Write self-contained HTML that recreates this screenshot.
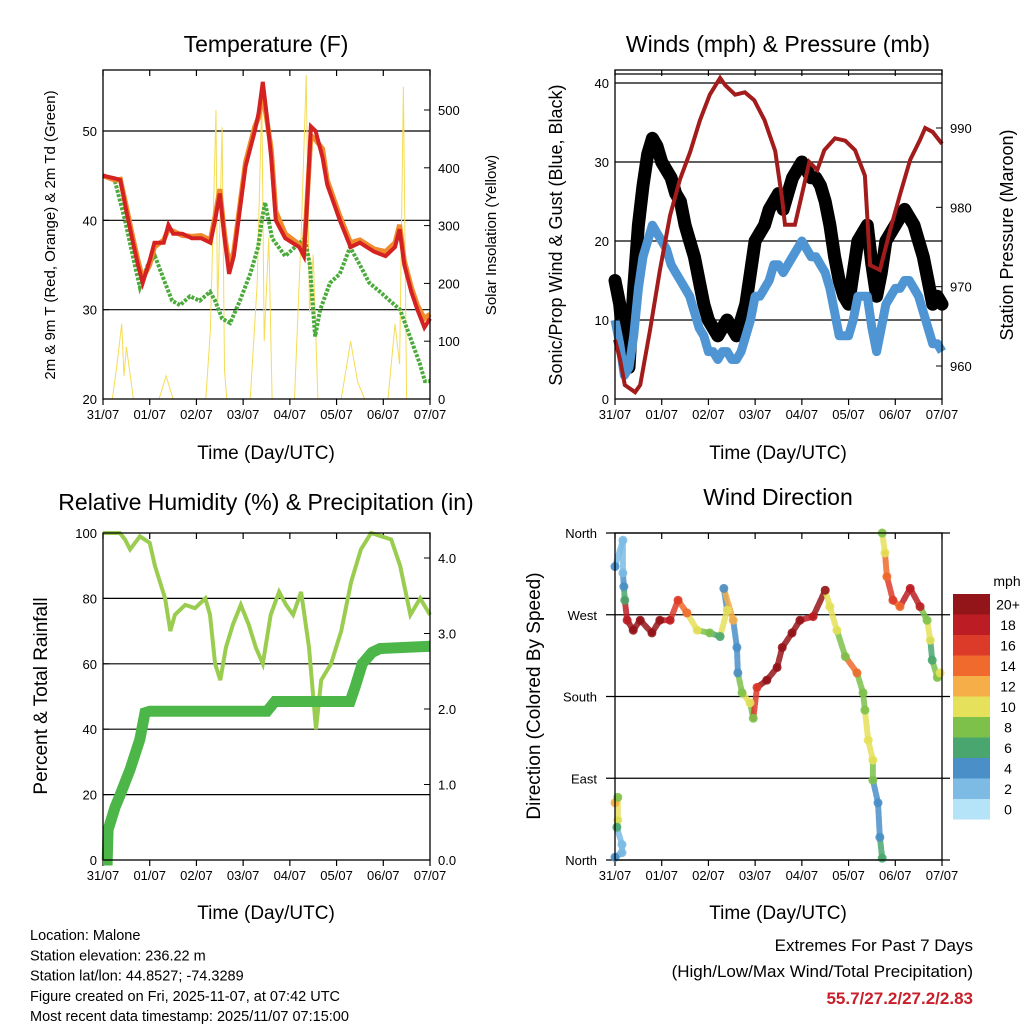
<!DOCTYPE html>
<html><head><meta charset="utf-8">
<style>
body{margin:0;background:#fff;}
svg{display:block;font-family:"Liberation Sans",Arial,sans-serif;}
</style></head>
<body>
<svg id="c" width="1024" height="1024" viewBox="0 0 1024 1024"></svg>
<script>
// ---------- DATA ----------
const dayLabels=["31/07","01/07","02/07","03/07","04/07","05/07","06/07","07/07"];
const tempTicks=[20,30,40,50];
const solarTicks=[0,100,200,300,400,500];
const windTicks=[0,10,20,30,40];
const presTicks=[960,970,980,990];
const rhTicks=[0,20,40,60,80,100];
const rainTicks=[0,1,2,3,4];
const dirLabels=["North","East","South","West","North"];
const dirTicks=[0,90,180,270,360];
const tempTimes=[0,0.25,0.37,0.5,0.62,0.75,0.85,1.0,1.1,1.3,1.4,1.5,1.7,1.9,2.1,2.3,2.4,2.5,2.6,2.7,2.8,2.95,3.05,3.25,3.33,3.42,3.5,3.6,3.7,3.9,4.2,4.3,4.35,4.45,4.55,4.7,4.8,5.07,5.3,5.5,5.8,6.05,6.25,6.35,6.45,6.6,6.73,6.88,7];
const tempRed=[45,44.7,44.5,41,38,35,33,35.5,37.5,37.5,39.5,38.5,38.5,38,38,37.5,40,43,38,34,36,42,46,50,52,55.5,52,47,40,38,37,36,40,50.5,50,47,44,40,37,37.5,36.5,36,37,39,35,32,30,28,29];
const tempOrange=[45,44.5,44.6,41.5,38.5,35.5,33.5,35,37,37.8,39,38.8,38.3,38.2,38.3,37.8,40.5,43.5,38.5,35,36.5,42.5,46.5,50.5,51.5,54,51.5,48,41,38.5,37.3,36.5,40.5,49.5,49,48,44.5,40.5,37.5,37.8,36.8,36.5,37.5,39.5,35.5,32.5,30.5,29,29.5];
const tdTimes=[0,0.25,0.47,0.68,0.79,0.96,1.11,1.33,1.48,1.65,1.86,2.07,2.29,2.4,2.55,2.72,2.93,3.15,3.32,3.4,3.47,3.62,3.9,4.11,4.32,4.43,4.54,4.65,4.86,5.07,5.29,5.5,5.7,5.93,6.14,6.36,6.57,6.78,6.89,7];
const tdVals=[45,44.5,40,35,32.5,35,36,33,31,30.5,31.5,31,32,31,29,28.5,31,34,37,40,42,38,36,37,38,35,27,30,33,34,37,35,33,32,31,30,27,24,22,22];
const solarTimes=[0,0.2,0.3,0.4,0.45,0.5,0.65,1.2,1.35,1.5,2.2,2.3,2.42,2.45,2.5,2.55,2.6,2.65,3.15,3.3,3.4,3.45,3.55,3.62,4.1,4.25,4.35,4.42,4.5,4.6,5.1,5.3,5.45,5.6,6.1,6.25,6.35,6.43,6.5,7];
const solarVals=[0,0,60,130,40,90,0,0,40,0,0,120,500,150,300,470,50,0,0,200,520,100,280,0,0,300,560,150,250,0,0,100,30,0,0,130,60,540,0,0];
const windTimes=[0,0.1,0.2,0.3,0.4,0.5,0.6,0.7,0.8,0.9,1.0,1.1,1.2,1.3,1.4,1.5,1.6,1.7,1.8,1.9,2.0,2.1,2.2,2.3,2.4,2.5,2.6,2.7,2.8,2.9,3.0,3.1,3.2,3.3,3.4,3.5,3.6,3.7,3.8,3.9,4.0,4.1,4.2,4.3,4.4,4.5,4.6,4.7,4.8,4.9,5.0,5.1,5.2,5.3,5.4,5.5,5.6,5.7,5.8,5.9,6.0,6.1,6.2,6.3,6.4,6.5,6.6,6.7,6.8,6.9,7.0];
const gustVals=[15,12,6,4,14,22,27,31,33,32,30,29,28,26,25,22,20,18,15,12,10,9,8,9,10,9,8,10,12,16,20,21,22,24,25,26,24,26,28,29,30,29,28,28,27,25,22,18,15,13,12,16,20,21,22,17,13,16,20,21,22,23,24,23,22,20,18,15,12,13,12];
const windVals=[10,7,3,4,8,14,18,20,22,21,20,19,17,16,15,14,13,11,9,8,6,6,5,6,6,5,5,6,8,10,13,13,14,15,17,17,16,17,18,19,20,19,18,18,17,16,14,11,8,8,8,10,13,13,13,9,6,9,12,13,14,14,15,15,14,13,11,9,7,7,6];
const presTimes=[0,0.11,0.21,0.43,0.54,0.75,0.96,1.18,1.39,1.61,1.82,2.03,2.25,2.36,2.57,2.78,2.98,3.2,3.43,3.58,3.64,3.85,4.0,4.16,4.33,4.48,4.71,4.93,5.14,5.35,5.46,5.67,5.89,6.1,6.32,6.53,6.64,6.8,7.0];
const presVals=[963.3,960.8,957.6,956.7,957.6,964.5,972,979,983.5,987,991,994.2,996.3,995.4,994.2,994.5,993.5,991,987.1,981,977.8,977.8,981.6,985.7,984.7,987.2,988.7,988.4,987.2,984,972.7,972.1,977.1,981.6,986,988.5,990,989.5,988];
const rhTimes=[0,0.36,0.47,0.58,0.79,1.0,1.11,1.33,1.44,1.54,1.76,1.97,2.19,2.29,2.4,2.51,2.63,2.78,2.95,3.12,3.27,3.42,3.59,3.77,3.92,4.07,4.24,4.41,4.5,4.56,4.67,4.88,5.1,5.31,5.52,5.74,6.17,6.36,6.58,6.79,7];
const rhVals=[100,100,98,95,99,97,90,80,70,75,78,77,80,75,60,55,65,72,78,72,65,60,75,82,78,75,82,65,50,40,55,60,70,85,95,100,98,90,75,80,75];
const rainTimes=[0,0.09,0.11,0.26,0.36,0.58,0.79,0.9,1.0,3.51,3.68,5.29,5.4,5.55,5.76,5.93,7];
const rainVals=[0,0,0.4,0.7,0.85,1.2,1.6,1.95,1.97,1.97,2.1,2.1,2.3,2.6,2.75,2.8,2.83];
const dirTimes=[0,0.17,0.17,0.19,0.21,0.26,0.39,0.54,0.79,0.96,1.18,1.35,1.54,1.76,2.03,2.25,2.40,2.33,2.53,2.61,2.63,2.72,2.89,2.96,3.04,3.25,3.47,3.58,3.79,3.96,4.24,4.50,4.60,4.75,4.93,5.18,5.31,5.35,5.42,5.52,5.52,5.63,5.67,5.72,5.72,5.78,5.82,5.95,6.10,6.32,6.53,6.68,6.75,6.79,6.90,6.96,0,0.06,0.06,0.04,0.15,0.15,0];
const dirVals=[323,352,316,301,286,264,253,264,250,264,264,286,272,253,250,246,275,299,264,234,206,184,173,156,190,198,212,234,250,264,268,297,279,253,224,206,184,165,132,110,88,63,25,2,360,338,312,286,279,299,279,264,242,220,201,206,63,69,44,36,17,8,3];
const dirSpeeds=[4,2,2,4,6,18,20,20,20,20,18,16,14,10,7,6,10,4,12,4,4,8,10,7,16,20,20,20,20,20,18,20,10,10,8,14,8,7,10,10,7,4,4,6,7,10,14,16,14,18,18,7,10,6,7,10,12,7,10,6,1,2,4];
const cbLabels=["0","2","4","6","8","10","12","14","16","18","20+"];
const cbColors=["#b5e3f8","#7dbbe4","#4a8fc8","#49a66f","#7dc14b","#e6e15a","#f6ae48","#ef6a2c","#dd3b2a","#bc1d24","#941519"];

// ---------- HELPERS ----------
const svg=document.getElementById('c');
const NS="http://www.w3.org/2000/svg";
function mk(tag,at,parent){const e=document.createElementNS(NS,tag);for(const k in at)e.setAttribute(k,at[k]);(parent||svg).appendChild(e);return e;}
function txt(s,x,y,size,anchor,parent,extra){const t=mk('text',Object.assign({x:x,y:y,'font-size':size,'text-anchor':anchor||'middle',fill:'#000'},extra||{}),parent);t.textContent=s;return t;}
function lin(d0,d1,r0,r1){return v=>r0+(v-d0)/(d1-d0)*(r1-r0);}
function pathFrom(ts,vs,sx,sy){return ts.map((t,i)=>(i?'L':'M')+sx(t).toFixed(1)+','+sy(vs[i]).toFixed(1)).join('');}
function speedColor(s){return cbColors[Math.min(10,Math.max(0,Math.round(s/2)))];}

function panelFrame(g,x0,x1,y0,y1,grid,sy,gl,gr){
  const sx=lin(0,7,x0,x1);
  grid.forEach(v=>{const y=sy(v);const l=mk('line',{x1:gl,x2:gr,y1:y,y2:y,stroke:'#000','stroke-width':1.2},g);
  
  });
  for(let d=0;d<=7;d++){const x=sx(d);
    mk('line',{x1:x,x2:x,y1:y1,y2:y1+6,stroke:'#000','stroke-width':1.2},g);
    mk('line',{x1:x,x2:x,y1:y0,y2:y0+6,stroke:'#000','stroke-width':1.2},g);
    const t=txt(dayLabels[d],x,y1+20,13,'middle',g);
    
    }
  return sx;
}
function border(g,x0,x1,y0,y1){const r=mk('rect',{x:x0,y:y0,width:x1-x0,height:y1-y0,fill:'none',stroke:'#000','stroke-width':1.3},g);
  
  }
function yTicks(g,ticks,sy,x,side,fmt){ticks.forEach(v=>{const y=sy(v);
  mk('line',{x1:x,x2:x+(side<0?6:-6),y1:y,y2:y,stroke:'#000'},g);
  const t=txt(fmt?fmt(v):String(v),x+(side<0?-6:8),y+5,13,side<0?'end':'start',g);
  
  });}
function rotLabel(s,x,y,size,g){return txt(s,x,y,size,'middle',g,{transform:`rotate(-90 ${x} ${y})`});}

// ---------- PANEL 1: TEMPERATURE ----------
(function(){
  const g=mk('g',{});  
  const x0=103,x1=430,y0=70,y1=399;
  const sy=lin(20,50,399,131), ss=lin(0,500,399,110);
  const sx=panelFrame(g,x0,x1,y0,y1,[30,40,50],sy,103,430);
  const sol=mk('path',{d:pathFrom(solarTimes,solarVals,sx,ss),fill:'none',stroke:'#f5dc55','stroke-width':1},g);
   
  const td=mk('path',{d:pathFrom(tdTimes,tdVals,sx,sy),fill:'none',stroke:'#4aab3a','stroke-width':4,'stroke-dasharray':'3 1.5'},g);
   
  const o=mk('path',{d:pathFrom(tempTimes,tempOrange,sx,sy),fill:'none',stroke:'#f08a2a','stroke-width':5},g);
   
  const r=mk('path',{d:pathFrom(tempTimes,tempRed,sx,sy),fill:'none',stroke:'#d42222','stroke-width':4},g);
   
  border(g,x0,x1,y0,y1);
  yTicks(g,tempTicks,sy,x0,-1); yTicks(g,solarTicks,ss,x1,1);
  const t=txt('Temperature (F)',266,52,23,'middle',g);  
  const xl=txt('Time (Day/UTC)',266,459,19,'middle',g);  
  const yl=rotLabel('2m & 9m T (Red, Orange) & 2m Td (Green)',55,235,15,g);  
  const yr=rotLabel('Solar Insolation (Yellow)',496,235,15,g);  
})();

// ---------- PANEL 2: WINDS ----------
(function(){
  const g=mk('g',{});  
  const x0=615,x1=942,y0=70,y1=399;
  const sy=lin(0,40,399,83), sp=lin(960,990,366,128);
  const sx=panelFrame(g,x0,x1,y0,y1,[10,20,30,40],sy,615,942);
  mk('line',{x1:615,x2:942,y1:74,y2:74,stroke:'#000','stroke-width':1.2},g);
  const gu=mk('path',{d:pathFrom(windTimes,gustVals,sx,sy),fill:'none',stroke:'#000','stroke-width':13,'stroke-linejoin':'round','stroke-linecap':'round'},g);
   
  const wi=mk('path',{d:pathFrom(windTimes,windVals,sx,sy),fill:'none',stroke:'#4f95d3','stroke-width':9,'stroke-linejoin':'round'},g);
   
  const pr=mk('path',{d:pathFrom(presTimes,presVals,sx,sp),fill:'none',stroke:'#a31c1c','stroke-width':4},g);
   
  border(g,x0,x1,y0,y1);
  yTicks(g,windTicks,sy,x0,-1); yTicks(g,presTicks,sp,x1,1);
  const t=txt('Winds (mph) & Pressure (mb)',778,52,23,'middle',g);  
  const xl=txt('Time (Day/UTC)',778,459,19,'middle',g);  
  const yl=rotLabel('Sonic/Prop Wind & Gust (Blue, Black)',562,235,18,g);  
  const yr=rotLabel('Station Pressure (Maroon)',1013,235,18,g);  
})();

// ---------- PANEL 3: RH ----------
(function(){
  const g=mk('g',{});  
  const x0=103,x1=430,y0=533,y1=860;
  const sy=lin(0,100,860,533), sr=lin(0,4,860,558);
  const sx=panelFrame(g,x0,x1,y0,y1,[20,40,60,80],sy,103,430);
  const rh=mk('path',{d:pathFrom(rhTimes,rhVals,sx,sy),fill:'none',stroke:'#9acd4f','stroke-width':4},g);
   
  const rn=mk('path',{d:pathFrom(rainTimes,rainVals,sx,sr),fill:'none',stroke:'#4cb648','stroke-width':11},g);
   
  border(g,x0,x1,y0,y1);
  yTicks(g,rhTicks,sy,x0,-1); yTicks(g,rainTicks,sr,x1,1,v=>v.toFixed(1));
  const t=txt('Relative Humidity (%) & Precipitation (in)',266,510,23,'middle',g);  
  const xl=txt('Time (Day/UTC)',266,919,19,'middle',g);  
  const yl=rotLabel('Percent & Total Rainfall',47,696,19,g);  
})();

// ---------- PANEL 4: WIND DIRECTION ----------
(function(){
  const g=mk('g',{});  
  const x0=615,x1=942,y0=533,y1=860;
  const sy=lin(0,360,860,533);
  const sx=panelFrame(g,x0,x1,y0,y1,[0,90,180,270,360],sy,606,950);
  for(let i=1;i<dirTimes.length;i++){
    if(Math.abs(dirVals[i]-dirVals[i-1])<40&&Math.abs(dirTimes[i]-dirTimes[i-1])<0.3){
      const l=mk('line',{x1:sx(dirTimes[i-1]),y1:sy(dirVals[i-1]),x2:sx(dirTimes[i]),y2:sy(dirVals[i]),stroke:speedColor(dirSpeeds[i]),'stroke-width':6,'stroke-linecap':'round','stroke-opacity':0.85,'stroke-dasharray':'5 2'},g);
      
      
    }
  }
  dirTimes.forEach((t,i)=>{
    const c=mk('circle',{cx:sx(t),cy:sy(dirVals[i]),r:4.5,fill:speedColor(dirSpeeds[i]),'fill-opacity':0.9},g);
    
    
  });
  border(g,x0,x1,y0,y1);
  dirTicks.forEach((v,i)=>{const t=txt(dirLabels[i],597,sy(v)+5,13,'end',g);
    
    });
  const t=txt('Wind Direction',778,505,23,'middle',g);  
  const xl=txt('Time (Day/UTC)',778,919,19,'middle',g);  
  const yl=rotLabel('Direction (Colored By Speed)',540,696,19,g);  
  const cb=mk('g',{},g);  
  const ttl=txt('mph',1007,586,14,'middle',cb);  
  const h=20.5, top=594;
  cbColors.forEach((col,i)=>{const y=top+(10-i)*h;
    const r=mk('rect',{x:953,y:y,width:37,height:h,fill:col},cb);
     
    const l=txt(cbLabels[i],1008,y+h/2+5,14,'middle',cb);
     });
})();

// ---------- FOOTER TEXT ----------
const info=["Location: Malone","Station elevation: 236.22 m","Station lat/lon: 44.8527; -74.3289","Figure created on Fri, 2025-11-07, at 07:42 UTC","Most recent data timestamp: 2025/11/07 07:15:00"];
info.forEach((s,i)=>{const t=txt(s,30,940+i*20.3,14.5,'start');
  
  });
const e1=txt('Extremes For Past 7 Days',973,951,17,'end');  
const e2=txt('(High/Low/Max Wind/Total Precipitation)',973,977,17,'end');  
const e3=txt('55.7/27.2/27.2/2.83',973,1004,17,'end',null,{fill:'#c8202a','font-weight':'bold'});  
</script>
</body></html>
